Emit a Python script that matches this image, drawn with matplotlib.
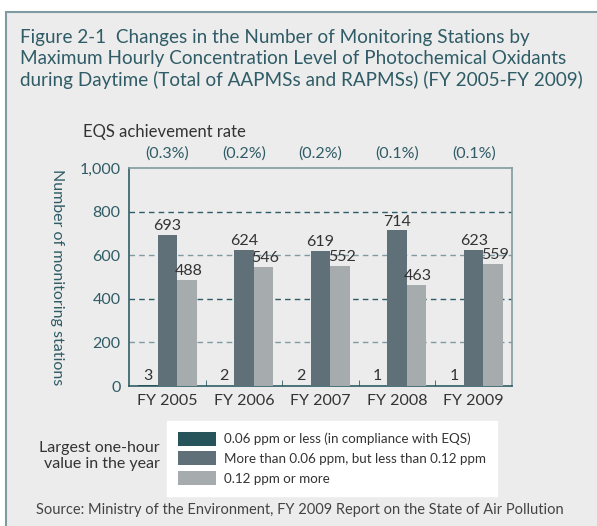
import numpy as np
import matplotlib.pyplot as plt
from matplotlib.patches import Rectangle, Patch

# Daten
years = ["FY 2005", "FY 2006", "FY 2007", "FY 2008", "FY 2009"]
low = [3, 2, 2, 1, 1]            # 0.06 ppm or less
mid = [693, 624, 619, 714, 623]  # more than 0.06, less than 0.12
high = [488, 546, 552, 463, 559] # 0.12 ppm or more
rates = ["(0.3%)", "(0.2%)", "(0.2%)", "(0.1%)", "(0.1%)"]
series_labels = ["0.06 ppm or less (in compliance with EQS)",
                 "More than 0.06 ppm, but less than 0.12 ppm",
                 "0.12 ppm or more"]

teal = "#2f5c66"
light_line = "#7f9ba1"
bg = "#ececec"
colors = ["#27535b", "#5f7078", "#a6abae"]

plt.rcParams['font.family'] = ['Lato', 'DejaVu Sans']

fig = plt.figure(figsize=(5.97, 5.26), dpi=100)
W, H = 597, 526

# Hintergrundrahmen
fig.patches.append(Rectangle((6 / W, -0.01), 1, 1.01 - 12 / H, transform=fig.transFigure,
                             facecolor=bg, edgecolor=light_line, linewidth=1.5, zorder=-10))

fig.text(20 / W, 1 - 29 / H,
         "Figure 2-1  Changes in the Number of Monitoring Stations by\n"
         "Maximum Hourly Concentration Level of Photochemical Oxidants\n"
         "during Daytime (Total of AAPMSs and RAPMSs) (FY 2005-FY 2009)",
         color=teal, fontsize=13.6, va="top", ha="left", linespacing=1.28)

ax = fig.add_axes([129 / W, 1 - 386 / H, 383 / W, 218 / H])
ax.set_facecolor(bg)

x = np.arange(len(years))
bw = 0.255
ax.bar(x - bw, low, bw, color=colors[0], zorder=3)
ax.bar(x, mid, bw, color=colors[1], zorder=3)
ax.bar(x + bw, high, bw, color=colors[2], zorder=3)

for i in range(len(years)):
    ax.text(x[i] - bw, low[i] + 12, str(low[i]), ha="center", va="bottom", fontsize=11.5, color="#333333", zorder=4)
    ax.text(x[i], mid[i] + 8, str(mid[i]), ha="center", va="bottom", fontsize=11.5, color="#333333", zorder=4)
    ax.text(x[i] + bw + 0.02, high[i] + 8, str(high[i]), ha="center", va="bottom", fontsize=11.5, color="#333333", zorder=4)
    ax.text(x[i], 1035, rates[i], ha="center", va="bottom", fontsize=11.5, color=teal, clip_on=False)

ax.set_xlim(-0.5, len(years) - 0.5)
ax.set_ylim(0, 1000)
ax.set_yticks(range(0, 1001, 200))
ax.set_yticklabels(["0", "200", "400", "600", "800", "1,000"])
ax.set_xticks(x)
ax.set_xticklabels(years)
ax.set_xticks(np.arange(0.5, len(years) - 1, 1), minor=True)
ax.tick_params(axis="x", which="major", length=0, labelsize=11.5, labelcolor="#333333", pad=6)
ax.tick_params(axis="x", which="minor", length=4, direction="in", color=teal)
ax.tick_params(axis="y", length=0, labelsize=11.5, labelcolor=teal, pad=6)

for yv in [200, 400, 600, 800]:
    c = teal if yv in (400, 800) else light_line
    ax.axhline(yv, color=c, linestyle=(0, (4, 3)), linewidth=1, zorder=1)

ax.spines["left"].set_color(teal)
ax.spines["bottom"].set_color(teal)
ax.spines["top"].set_color(light_line)
ax.spines["right"].set_color(light_line)
for s in ax.spines.values():
    s.set_linewidth(1.2)

fig.text(57 / W, 1 - 277 / H, "Number of monitoring stations", rotation=-90,
         ha="center", va="center", fontsize=11.5, color=teal)
fig.text(83 / W, 1 - 132 / H, "EQS achievement rate", ha="left", va="center",
         fontsize=12, color="#333333")

# Legende
handles = [Patch(facecolor=c) for c in colors]
leg = fig.legend(handles, series_labels, loc="upper left",
                 bbox_to_anchor=(167 / W, 1 - 421 / H), borderaxespad=0, frameon=True,
                 fontsize=9.6, handlelength=2.9, handleheight=1.25,
                 handletextpad=0.6, labelspacing=0.42, borderpad=0.8,
                 fancybox=False, edgecolor="white", facecolor="white", framealpha=1)
for t in leg.get_texts():
    t.set_color("#333333")

fig.text(160 / W, 1 - 456 / H, "Largest one-hour\nvalue in the year", ha="right",
         va="center", fontsize=11.5, color="#333333", linespacing=1.25)

fig.text(300 / W, 1 - 510 / H,
         "Source: Ministry of the Environment, FY 2009 Report on the State of Air Pollution",
         ha="center", va="center", fontsize=10.5, color="#444444")

fig.savefig("out.png", dpi=100)
